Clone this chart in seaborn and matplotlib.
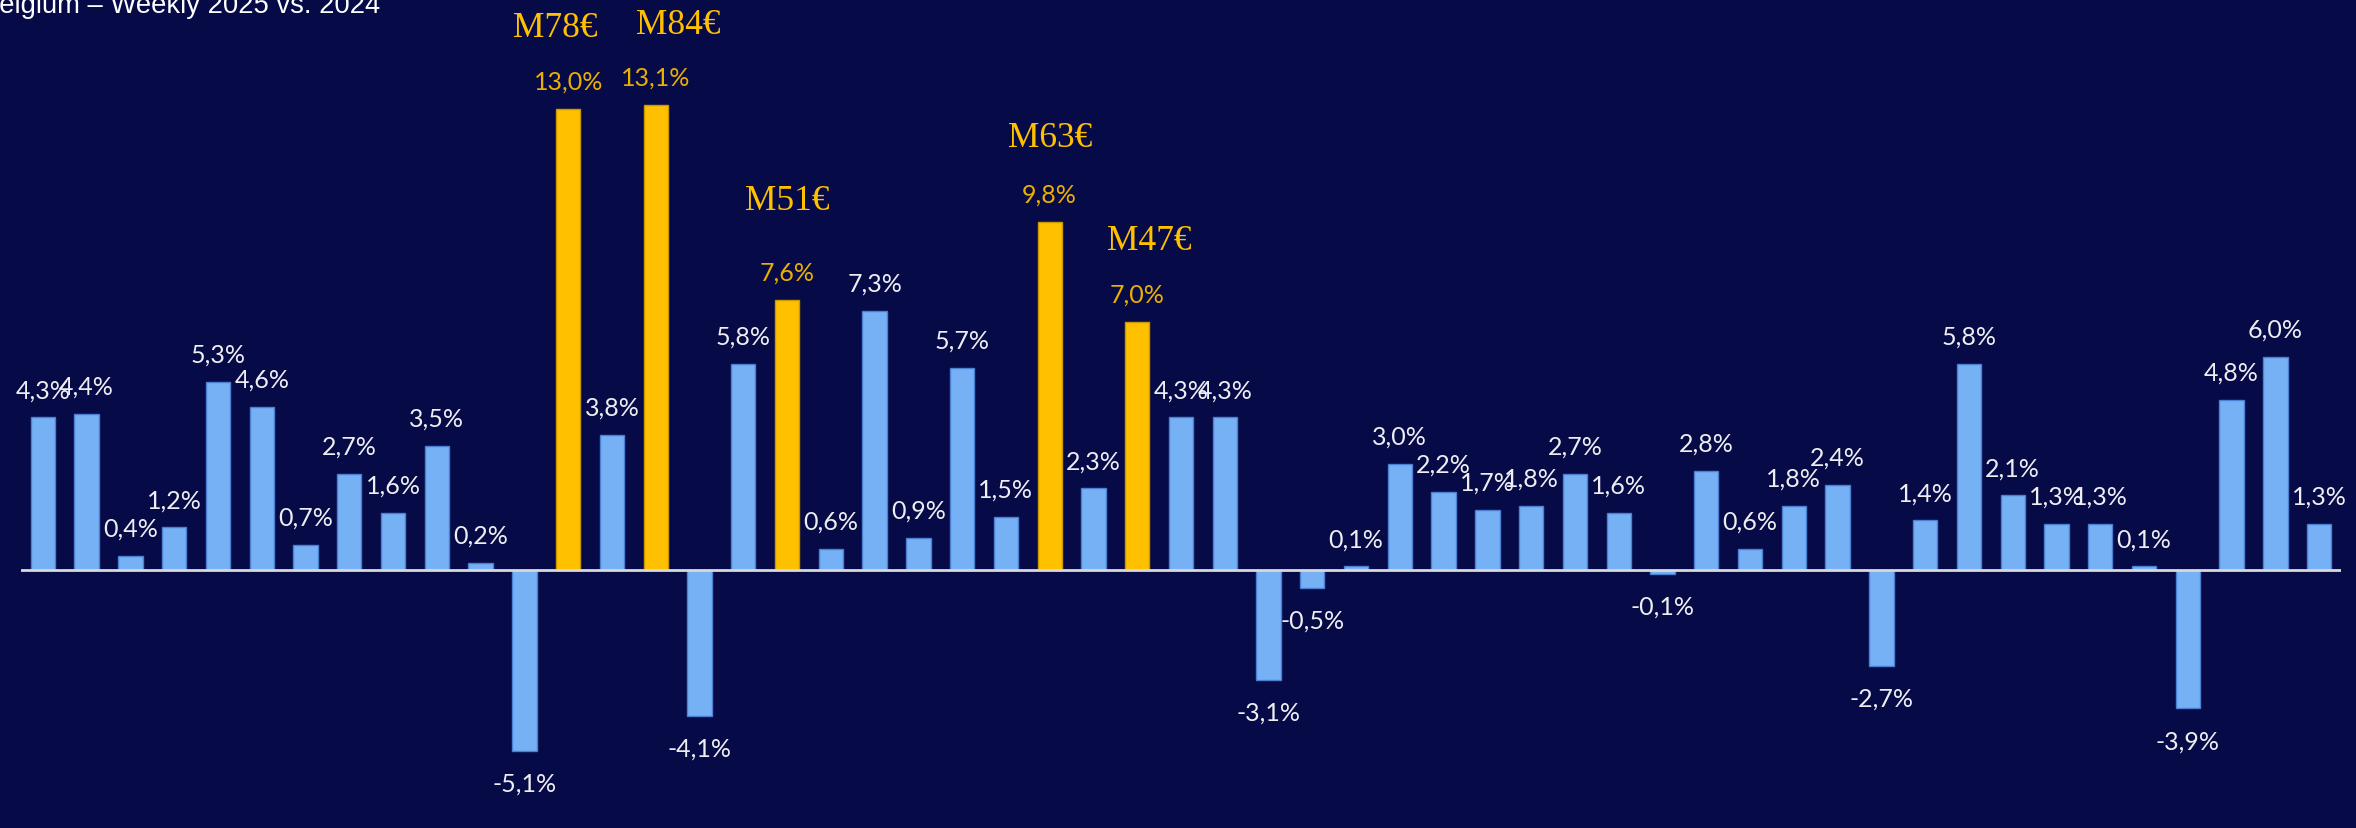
import matplotlib
matplotlib.use("Agg")
import matplotlib.pyplot as plt
import seaborn as sns
import pandas as pd

# Weekly sales growth, 2025 vs. 2024 (in %)
weeks = [f"W{n:02d}" for n in range(1, 54)]
growth = [
    4.3, 4.4, 0.4, 1.2, 5.3, 4.6, 0.7, 2.7, 1.6, 3.5,
    0.2, -5.1, 13.0, 3.8, 13.1, -4.1, 5.8, 7.6, 0.6, 7.3,
    0.9, 5.7, 1.5, 9.8, 2.3, 7.0, 4.3, 4.3, -3.1, -0.5,
    0.1, 3.0, 2.2, 1.7, 1.8, 2.7, 1.6, -0.1, 2.8, 0.6,
    1.8, 2.4, -2.7, 1.4, 5.8, 2.1, 1.3, 1.3, 0.1, -3.9,
    4.8, 6.0, 1.3,
]
# Promotion weeks and their incremental revenue
promo_weeks = ["W13", "W15", "W18", "W24", "W26"]
promo_revenue = ["M78€", "M84€", "M51€", "M63€", "M47€"]

title = "Belgium – Weekly 2025 vs. 2024"

# Styling
BG = "#060A46"
BLUE = "#76B1F5"
BLUE_EDGE = "#4D7FD0"
GOLD = "#FFC000"
GOLD_EDGE = "#C99A00"
GOLD_TEXT = "#E9B000"
WHITE_TEXT = "#EEEEF2"
AXIS = "#D9D9D9"

# Small nudges (points) for the revenue captions so they do not collide
revenue_nudge = [(-9.5, 0), (16, 0), (0, 14), (0, 3), (8.5, 0)]

sns.set_theme(style="white")
plt.rcParams["font.family"] = ["Lato", "DejaVu Sans"]

df = pd.DataFrame({"week": weeks, "growth": growth})
df["kind"] = ["promo" if w in promo_weeks else "regular" for w in weeks]

W, H, DPI = 2356, 829, 100
fig = plt.figure(figsize=(W / DPI, H / DPI), dpi=DPI)
fig.patch.set_facecolor(BG)

ax = fig.add_axes([21 / W, 0, 2320 / W, 1])
ax.set_facecolor(BG)

sns.barplot(
    data=df, x="week", y="growth", hue="kind", order=weeks,
    palette={"regular": BLUE, "promo": GOLD}, dodge=False,
    width=0.556, legend=False, ax=ax, linewidth=1.0,
    saturation=1,
)
for p in ax.patches:
    fc = p.get_facecolor()
    is_gold = fc[0] > 0.9 and fc[2] < 0.2
    p.set_edgecolor(GOLD_EDGE if is_gold else BLUE_EDGE)

ax.set_xlim(-0.5, len(weeks) - 0.5)
px_per_pct = 35.5
ax.set_ylim(-258 / px_per_pct, 571 / px_per_pct)
ax.axhline(0, color=AXIS, lw=2.0, zorder=3)

for s in ax.spines.values():
    s.set_visible(False)
ax.set_xticks([])
ax.set_yticks([])
ax.set_xlabel("")
ax.set_ylabel("")

LABEL_SIZE = 18

# Value labels
for i, (w, v) in enumerate(zip(weeks, growth)):
    txt = f"{v:.1f}".replace(".", ",") + "%"
    col = GOLD_TEXT if w in promo_weeks else WHITE_TEXT
    if v >= 0:
        ax.annotate(txt, xy=(i, v), xytext=(0, 14.5), textcoords="offset points",
                    ha="center", va="baseline", fontsize=LABEL_SIZE, color=col, zorder=5)
    else:
        ax.annotate(txt, xy=(i, v), xytext=(0, -15), textcoords="offset points",
                    ha="center", va="top", fontsize=LABEL_SIZE, color=col, zorder=5)

# Revenue captions over promotion weeks
for w, rev, (dx, dy) in zip(promo_weeks, promo_revenue, revenue_nudge):
    i = weeks.index(w)
    v = growth[i]
    ax.annotate(rev, xy=(i, v), xytext=(dx, 52 + dy), textcoords="offset points",
                ha="center", va="baseline", fontsize=25.5, color=GOLD,
                family=["Liberation Serif", "DejaVu Serif"], zorder=5)

fig.text(-19 / W, 1 - 13 / H, title, ha="left", va="baseline",
         fontsize=19.7, color="white", family=["Liberation Sans", "DejaVu Sans"])

fig.savefig("out.png", dpi=DPI, facecolor=BG)
